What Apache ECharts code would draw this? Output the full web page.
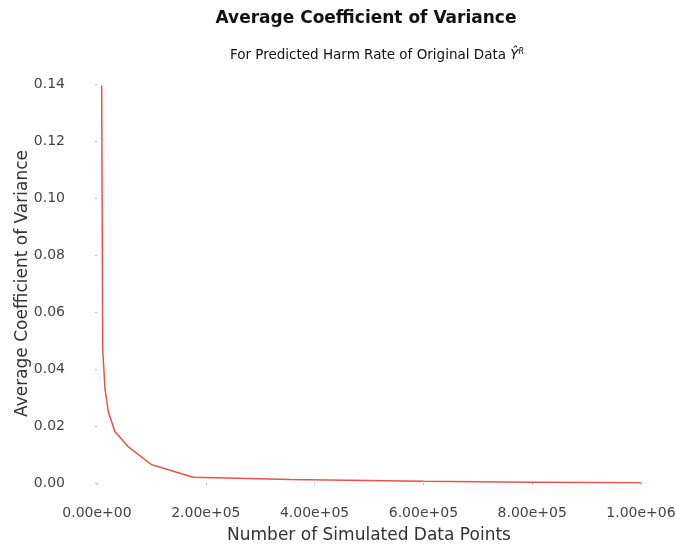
<!DOCTYPE html>
<html>
<head>
<meta charset="utf-8">
<script src="https://cdn.jsdelivr.net/npm/echarts@6/dist/echarts.min.js"></script>
<style>
  html, body { margin: 0; padding: 0; background: #fff; }
  #chart { width: 676px; height: 544px; }
</style>
</head>
<body>
<div id="chart"></div>
<script>
// number of simulated points vs average CV
var simPoints = [8600, 10500, 14700, 20800, 33000, 57500, 100500, 177000, 355000, 600000, 800000, 1000000];
var avgCV = [0.1395, 0.047, 0.033, 0.025, 0.018, 0.0127, 0.0064, 0.0020, 0.0012, 0.0006, 0.0003, 0.0001];
var xTicks = [0, 200000, 400000, 600000, 800000, 1000000];
var yTicks = [0, 0.02, 0.04, 0.06, 0.08, 0.10, 0.12, 0.14];

function sci(v) {
    // 2.00e+05 style like matplotlib
    if (v === 0) return '0.00e+00';
    var e = Math.floor(Math.log10(Math.abs(v)));
    var m = v / Math.pow(10, e);
    var es = (e < 10 ? '0' : '') + e;
    return m.toFixed(2) + 'e+' + es;
}

var font = 'DejaVu Sans';
var myChart = echarts.init(document.getElementById('chart'));
var option = {
    backgroundColor: '#fff',
    animation: false,
    title: [
        {
            text: 'Average Coefficient of Variance',
            left: 361, top: 5, textAlign: 'center',
            textStyle: { fontFamily: font, fontSize: 17, fontWeight: 'bold', color: '#111' }
        },
        {
            text: 'For Predicted Harm Rate of Original Data {y|Ŷ}{sup|R}',
            left: 372, top: 43, textAlign: 'center',
            textStyle: {
                fontFamily: font, fontSize: 13.5, fontWeight: 'normal', color: '#111',
                rich: {
                    y: { fontFamily: font, fontSize: 13.5, fontStyle: 'italic', color: '#111' },
                    sup: { fontFamily: font, fontSize: 8, fontStyle: 'italic', color: '#111', verticalAlign: 'top', padding: [0, 0, 7, 0] }
                }
            }
        }
    ],
    grid: { left: 97, right: 35, top: 84, bottom: 61, outerBoundsMode: 'none' },
    xAxis: {
        type: 'value',
        min: xTicks[0], max: xTicks[xTicks.length - 1], interval: xTicks[1] - xTicks[0],
        offset: 20,
        name: 'Number of Simulated Data Points',
        nameLocation: 'middle', nameGap: 24,
        nameTextStyle: { fontFamily: font, fontSize: 17, color: '#333' },
        axisLine: { show: false },
        axisTick: { show: true, length: 2, lineStyle: { color: '#bbb' } },
        splitLine: { show: false },
        axisLabel: { fontFamily: font, fontSize: 14, color: '#444', margin: 3, formatter: sci }
    },
    yAxis: {
        type: 'value',
        min: yTicks[0], max: yTicks[yTicks.length - 1], interval: 0.02,
        offset: 27,
        name: 'Average Coefficient of Variance',
        nameLocation: 'middle', nameGap: 39, nameMoveOverlap: false,
        nameTextStyle: { fontFamily: font, fontSize: 17, color: '#333' },
        axisLine: { show: false },
        axisTick: { show: true, length: 2, lineStyle: { color: '#bbb' } },
        splitLine: { show: false },
        axisLabel: { fontFamily: font, fontSize: 14, color: '#444', margin: 5,
            formatter: function (v) { return v.toFixed(2); } }
    },
    series: [{
        type: 'line',
        data: simPoints.map(function (x, i) { return [x, avgCV[i]]; }),
        showSymbol: false,
        lineStyle: { color: '#e8524a', width: 1.5 }
    }]
};
myChart.setOption(option);
</script>
</body>
</html>
